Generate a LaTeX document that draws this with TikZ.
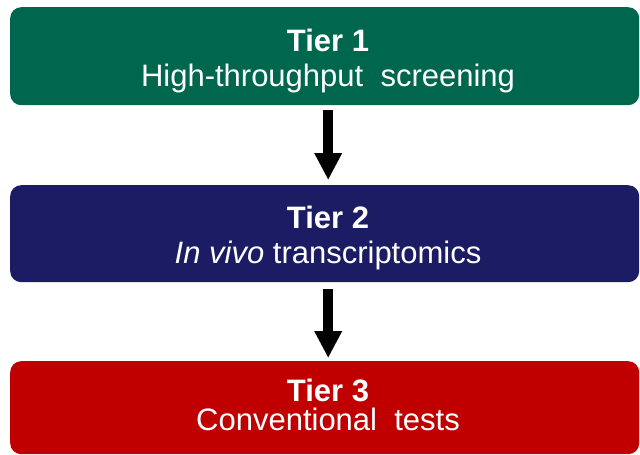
\documentclass[tikz,border=0pt]{standalone}
\usepackage{fontspec}
\setmainfont{Liberation Sans}
\usepackage{xcolor}
\usetikzlibrary{positioning,arrows.meta}
\definecolor{tiergreen}{RGB}{0,103,79}
\definecolor{tiernavy}{RGB}{28,28,100}
\definecolor{tierred}{RGB}{192,0,0}
\tikzset{
  tierbox/.style={rounded corners=11pt, draw=none, minimum width=629pt, inner sep=0pt, anchor=north west},
  tierhead/.style={text=white, anchor=base, font=\fontsize{31}{36}\selectfont\bfseries},
  tiersub/.style={text=white, anchor=base, font=\fontsize{31}{36}\selectfont},
  tierarrow/.style={line width=10pt, -{Triangle[width=26pt,length=27pt]}}
}

\begin{document}
\begin{tikzpicture}[x=1pt,y=-1pt]
  \useasboundingbox (0,0) rectangle (640,455);

  % Tier 1: screening box (green)
  \node[tierbox, fill=tiergreen, minimum height=98pt] (tier1) at (10,7) {};
  \node[tierhead] (tier1head) at (328,51) {Tier 1};
  \node[tiersub] (tier1sub) at (328,86) {High-throughput\ \ screening};

  % Tier 2: transcriptomics box (navy)
  \node[tierbox, fill=tiernavy, minimum height=97pt] (tier2) at (10,185) {};
  \node[tierhead] (tier2head) at (328,228) {Tier 2};
  \node[tiersub] (tier2sub) at (328,263) {\textit{In vivo} transcriptomics};

  % Tier 3: conventional tests box (red)
  \node[tierbox, fill=tierred, minimum height=93pt] (tier3) at (10,361) {};
  \node[tierhead] (tier3head) at (328,401) {Tier 3};
  \node[tiersub] (tier3sub) at (328,430) {Conventional\ \ tests};

  % arrows between tiers
  \draw[tierarrow, shorten <=5pt, shorten >=5pt] ([xshift=3.5pt]tier1.south) -- ([xshift=3.5pt]tier2.north);
  \draw[tierarrow, shorten <=7pt, shorten >=3pt] ([xshift=3.5pt]tier2.south) -- ([xshift=3.5pt]tier3.north);
\end{tikzpicture}
\end{document}
